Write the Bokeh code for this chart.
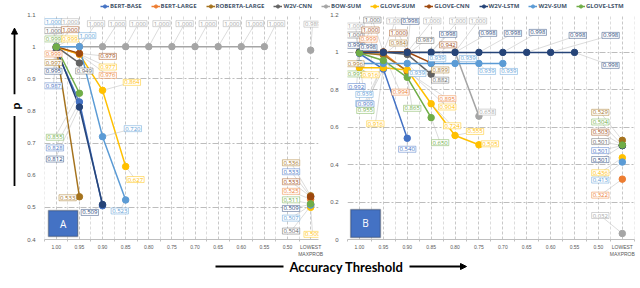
import math
from bokeh.plotting import figure
from bokeh.models import (Range1d, FixedTicker, Legend, LegendItem, Arrow,
                          NormalHead, BoxAnnotation, Label, ColumnDataSource)
from bokeh.layouts import column, row
from bokeh.embed import file_html
from bokeh.resources import INLINE
from bokeh.core.properties import value, field

N = None
THRESHOLDS = ["1.00", "0.95", "0.90", "0.85", "0.80", "0.75", "0.70", "0.65",
              "0.60", "0.55", "0.50", "LOWEST\nMAXPROB"]
SERIES = ["BERT-BASE", "BERT-LARGE", "ROBERTA-LARGE", "W2V-CNN", "BOW-SUM",
          "GLOVE-SUM", "GLOVE-CNN", "W2V-LSTM", "W2V-SUM", "GLOVE-LSTM"]
COLORS = ["#4472C4", "#ED7D31", "#A5731E", "#636363", "#A5A5A5",
          "#FFC000", "#9E480E", "#264478", "#5B9BD5", "#70AD47"]

# ---- Panel A values (one entry per threshold, None = no point)
A_BERT_BASE     = [0.987, 0.828, 0.505, N, N, N, N, N, N, N, N, 0.533]
A_BERT_LARGE    = [0.999, 0.976, N, N, N, N, N, N, N, N, N, 0.525]
A_ROBERTA_LARGE = [0.997, 0.533, N, N, N, N, N, N, N, N, N, 0.536]
A_W2V_CNN       = [1.000, 0.949, N, N, N, N, N, N, N, N, N, 0.504]
A_BOW_SUM       = [1.000, 1.000, 1.000, 1.000, 1.000, 1.000, 1.000, 1.000, 1.000, 1.000, N, 0.989]
A_GLOVE_SUM     = [0.999, 0.977, 0.864, 0.627, N, N, N, N, N, N, N, 0.500]
A_GLOVE_CNN     = [1.000, 0.979, N, N, N, N, N, N, N, N, N, 0.533]
A_W2V_LSTM      = [0.995, 0.812, 0.509, N, N, N, N, N, N, N, N, 0.509]
A_W2V_SUM       = [1.000, 1.000, 0.720, 0.523, N, N, N, N, N, N, N, 0.507]
A_GLOVE_LSTM    = [0.999, 0.855, N, N, N, N, N, N, N, N, N, 0.511]

# ---- Panel B values
B_BERT_BASE     = [0.992, 0.909, 0.540, N, N, N, N, N, N, N, N, 0.501]
B_BERT_LARGE    = [0.999, 0.994, 0.895, N, N, N, N, N, N, N, N, 0.322]
B_ROBERTA_LARGE = [0.996, 0.984, 0.899, N, N, N, N, N, N, N, N, 0.529]
B_W2V_CNN       = [1.000, 1.000, 0.987, 0.882, N, N, N, N, N, N, N, 0.501]
B_BOW_SUM       = [1.000, 1.000, 1.000, 1.000, 1.000, 0.658, N, N, N, N, N, 0.032]
B_GLOVE_SUM     = [0.916, 0.916, 0.904, 0.724, 0.555, 0.505, N, N, N, N, N, 0.436]
B_GLOVE_CNN     = [1.000, 1.000, 1.000, 0.942, N, N, N, N, N, N, N, 0.503]
B_W2V_LSTM      = [0.998, 0.998, 0.998, 0.998, 0.998, 0.998, 0.998, 0.998, 0.998, 0.998, N, 0.501]
B_W2V_SUM       = [0.939, 0.939, 0.939, 0.939, 0.939, 0.939, 0.939, N, N, N, N, 0.413]
B_GLOVE_LSTM    = [0.995, 0.955, 0.865, 0.650, N, N, N, N, N, N, N, 0.504]

A_VALUES = dict(zip(SERIES, [A_BERT_BASE, A_BERT_LARGE, A_ROBERTA_LARGE, A_W2V_CNN, A_BOW_SUM,
                             A_GLOVE_SUM, A_GLOVE_CNN, A_W2V_LSTM, A_W2V_SUM, A_GLOVE_LSTM]))
B_VALUES = dict(zip(SERIES, [B_BERT_BASE, B_BERT_LARGE, B_ROBERTA_LARGE, B_W2V_CNN, B_BOW_SUM,
                             B_GLOVE_SUM, B_GLOVE_CNN, B_W2V_LSTM, B_W2V_SUM, B_GLOVE_LSTM]))

A_Y_TICKS = [0.4, 0.5, 0.6, 0.7, 0.8, 0.9, 1.0, 1.1]
B_Y_TICKS = [0.0, 0.2, 0.4, 0.6, 0.8, 1.0, 1.2]

# ---- data-label placement (series, threshold index, pixel offset right, pixel offset up)
A_LABELS = [
    ("W2V-SUM", 0, -3, 25), ("W2V-CNN", 0, -3, 16), ("GLOVE-LSTM", 0, -3, 8),
    ("BERT-LARGE", 0, -3, -7), ("ROBERTA-LARGE", 0, -3, -15), ("W2V-LSTM", 0, -3, -23),
    ("BERT-BASE", 0, -3, -35), ("BOW-SUM", 0, 14, 25), ("GLOVE-CNN", 0, 14, 17),
    ("GLOVE-SUM", 0, 14, 8),
    ("BOW-SUM", 1, 17, 23), ("W2V-SUM", 1, 8, 11), ("GLOVE-CNN", 1, 29, -3),
    ("W2V-CNN", 1, 5, -8), ("GLOVE-SUM", 1, 29, -13), ("BERT-LARGE", 1, 29, -21),
    ("GLOVE-LSTM", 1, -25, -44), ("BERT-BASE", 1, -25, -46), ("W2V-LSTM", 1, -25, -52),
    ("ROBERTA-LARGE", 1, -12, -1),
    ("BOW-SUM", 2, 15, 23), ("GLOVE-SUM", 2, 30, 8), ("W2V-SUM", 2, 31, 8),
    ("W2V-LSTM", 2, -13, -8),
    ("BOW-SUM", 3, 13, 23), ("GLOVE-SUM", 3, 10, -13), ("W2V-SUM", 3, -6, -11),
    ("BOW-SUM", 4, 13, 23), ("BOW-SUM", 5, 13, 23), ("BOW-SUM", 6, 13, 23),
    ("BOW-SUM", 7, 14, 23), ("BOW-SUM", 8, 14, 23), ("BOW-SUM", 9, 12, 23),
    ("BOW-SUM", 11, 2, 26),
    ("ROBERTA-LARGE", 11, -20, 33), ("BERT-BASE", 11, -20, 25), ("GLOVE-CNN", 11, -20, 15),
    ("BERT-LARGE", 11, -20, 8), ("GLOVE-LSTM", 11, -20, 4), ("W2V-LSTM", 11, -20, -4),
    ("W2V-SUM", 11, -20, -13), ("W2V-CNN", 11, -20, -25), ("GLOVE-SUM", 11, 2, -27),
]
B_LABELS = [
    ("BOW-SUM", 0, -4, 26), ("W2V-CNN", 0, -4, 17), ("W2V-LSTM", 0, -4, 7),
    ("ROBERTA-LARGE", 0, -4, -11), ("GLOVE-LSTM", 0, -4, -21), ("BERT-BASE", 0, -3, -33),
    ("GLOVE-CNN", 0, 11, 22), ("BERT-LARGE", 0, 9, 13), ("GLOVE-SUM", 0, 11, -7),
    ("W2V-SUM", 0, 5, -31),
    ("W2V-CNN", 1, -11, 32), ("BOW-SUM", 1, 12, 31), ("W2V-LSTM", 1, -15, 5),
    ("ROBERTA-LARGE", 1, 15, 12), ("W2V-SUM", 1, -19, -40), ("BERT-BASE", 1, -18, -35),
    ("GLOVE-LSTM", 1, -18, -50), ("GLOVE-SUM", 1, -8, -56), ("BERT-LARGE", 1, 17, -39),
    ("W2V-LSTM", 2, 3, 31), ("GLOVE-CNN", 2, -9, 19), ("BOW-SUM", 2, 25, 31),
    ("W2V-CNN", 2, 18, 14), ("W2V-SUM", 2, 10, -10), ("GLOVE-LSTM", 2, 5, -31),
    ("BERT-BASE", 2, 0, -11), ("ROBERTA-LARGE", 2, 33, 1), ("BERT-LARGE", 2, 40, -27),
    ("GLOVE-SUM", 2, 40, -37),
    ("GLOVE-CNN", 3, 17, 18), ("W2V-CNN", 3, 9, -6), ("W2V-SUM", 3, 6, 5),
    ("GLOVE-SUM", 3, 21, -22), ("GLOVE-LSTM", 3, 9, -25), ("BOW-SUM", 3, 27, 31),
    ("BOW-SUM", 4, 23, 31), ("W2V-SUM", 4, 13, 5), ("GLOVE-SUM", 4, 20, 4),
    ("BOW-SUM", 5, 8, 4), ("W2V-SUM", 5, 8, -8), ("GLOVE-SUM", 5, 11, 1),
    ("W2V-SUM", 6, 6, -8),
    ("W2V-LSTM", 3, 17, 18), ("W2V-LSTM", 4, 33, 19), ("W2V-LSTM", 5, 34, 19),
    ("W2V-LSTM", 6, 35, 20), ("W2V-LSTM", 7, 51, 17), ("W2V-LSTM", 8, 60, 17),
    ("W2V-LSTM", 9, 36, -13),
    ("ROBERTA-LARGE", 11, -22, 28), ("GLOVE-LSTM", 11, -22, 23), ("GLOVE-CNN", 11, -22, 13),
    ("W2V-CNN", 11, -22, 4), ("BERT-BASE", 11, -22, -5), ("W2V-LSTM", 11, -22, -14),
    ("GLOVE-SUM", 11, -22, -15), ("W2V-SUM", 11, -22, -18), ("BERT-LARGE", 11, -22, -16),
    ("BOW-SUM", 11, -22, 18),
]

LABEL_FONT = value("Open Sans")
PANEL_H = 248
TOP_B, BOT_B = 3, 20


def panel(values, labels, xr, yr, yticks, ygrid, overrides, width, bl, br, tag, tagbox):
    p = figure(width=width, height=PANEL_H, x_range=Range1d(*xr), y_range=Range1d(*yr),
               toolbar_location=None, output_backend="svg",
               min_border_left=bl, min_border_right=br,
               min_border_top=TOP_B, min_border_bottom=BOT_B)
    p.outline_line_color = None
    p.background_fill_color = "white"
    sx = (width - bl - br) / (xr[1] - xr[0])
    sy = (PANEL_H - TOP_B - BOT_B) / (yr[1] - yr[0])

    # axes
    p.xaxis.ticker = FixedTicker(ticks=list(range(12)),
                                 minor_ticks=[i - 0.5 for i in range(13)])
    p.xaxis.major_label_overrides = {i: t for i, t in enumerate(THRESHOLDS)}
    p.xaxis.major_tick_in = 0
    p.xaxis.major_tick_out = 0
    p.xaxis.minor_tick_in = 0
    p.xaxis.minor_tick_out = 2
    p.xaxis.axis_line_color = "#bfbfbf"
    p.xaxis.minor_tick_line_color = "#bfbfbf"
    p.xaxis.major_label_text_font_size = "5px"
    p.xaxis.major_label_text_color = "#595959"
    p.xaxis.major_label_standoff = 2
    p.yaxis.ticker = FixedTicker(ticks=yticks)
    p.yaxis.major_label_overrides = overrides
    p.yaxis.axis_line_color = None
    p.yaxis.major_tick_line_color = None
    p.yaxis.minor_tick_line_color = None
    p.yaxis.major_label_text_font_size = "6px"
    p.yaxis.major_label_text_color = "#595959"
    p.yaxis.major_label_standoff = 3

    # grid
    p.xgrid.ticker = FixedTicker(ticks=list(range(12)),
                                 minor_ticks=[i - 0.5 for i in range(13)])
    p.xgrid.grid_line_color = "#c8c8c8"
    p.xgrid.grid_line_dash = "3 2"
    p.xgrid.minor_grid_line_color = "#dcdcdc"
    p.xgrid.minor_grid_line_dash = "3 2"
    p.ygrid.ticker = FixedTicker(ticks=ygrid)
    p.ygrid.grid_line_color = "#bdbdbd"
    p.ygrid.grid_line_dash = "6 2 2 2"

    # series lines
    for name, color in zip(SERIES, COLORS):
        vals = values[name]
        lx = [i for i in range(11) if vals[i] is not None]
        ly = [vals[i] for i in lx]
        if len(lx) > 1:
            p.line(lx, ly, line_color=color, line_width=1.5)

    # leader lines + labels
    lab = dict(x=[], y=[], x0=[], y0=[], t=[], color=[])
    for name, i, dx, dy in labels:
        v = values[name][i]
        if v is None:
            continue
        lab["x0"].append(i)
        lab["y0"].append(v)
        lab["x"].append(i + dx / sx)
        lab["y"].append(v + dy / sy)
        lab["t"].append(f"{v:.3f}")
        lab["color"].append(COLORS[SERIES.index(name)])
    src = ColumnDataSource(lab)
    p.segment(x0="x0", y0="y0", x1="x", y1="y", source=src,
              line_color="#c4c4c4", line_width=0.6)

    # markers
    for name, color in zip(SERIES, COLORS):
        vals = values[name]
        mx = [i for i in range(12) if vals[i] is not None]
        my = [vals[i] for i in mx]
        p.scatter(mx, my, size=6.5, fill_color=color, line_color=color)

    p.text(x="x", y="y", text="t", source=src, text_color=field("color"),
           text_font=LABEL_FONT, text_font_size="6px", text_align="center",
           text_baseline="middle", background_fill_color="white",
           border_line_color=field("color"), border_line_width=0.6,
           border_line_alpha=0.8, padding=1)

    l, r, b, t = tagbox
    p.add_layout(BoxAnnotation(left=l, right=r, bottom=b, top=t,
                               fill_color="#4472C4", fill_alpha=1.0,
                               line_color="#1a1a1a", line_width=1.5))
    p.add_layout(Label(x=(l + r) / 2, y=(b + t) / 2, text=tag, text_align="center",
                       text_baseline="middle", text_color="white",
                       text_font_size="10px", text_font="Open Sans"))
    return p


pA = panel(A_VALUES, A_LABELS, (-0.51, 11.34), (0.4, 1.1), A_Y_TICKS,
           [0.5, 0.7, 0.9, 1.1], {1.0: "1"}, 300, 14, 6, "A",
           (-0.34, 0.93, 0.409, 0.49))
pB = panel(B_VALUES, B_LABELS, (-0.5, 11.51), (0.0, 1.2), B_Y_TICKS,
           [0.2, 0.4, 0.6, 0.8, 1.0], {0.0: "0", 1.0: "1"}, 316, 23, 6, "B",
           (-0.37, 0.88, 0.011, 0.16))

# ---- legend strip
leg = figure(width=640, height=11, x_range=Range1d(0, 1), y_range=Range1d(0, 1),
             toolbar_location=None, output_backend="svg", min_border=0,
             x_axis_location=None, y_axis_location=None)
leg.grid.visible = False
leg.outline_line_color = None
items = []
for name, color in zip(SERIES, COLORS):
    r1 = leg.line(x=[-5, -4], y=[-5, -5], line_color=color, line_width=1.5)
    r2 = leg.scatter(x=[-5], y=[-5], size=4, fill_color=color, line_color=color)
    items.append(LegendItem(label=name, renderers=[r1, r2]))
legend = Legend(items=items, orientation="horizontal", location=(100, 1),
                label_text_font_size="6px", label_text_font_style="bold",
                label_text_font="Open Sans", label_text_color="#44546A",
                glyph_width=9, glyph_height=8, label_standoff=1, spacing=9,
                padding=0, margin=0, border_line_alpha=0,
                background_fill_alpha=0, label_height=8, label_width=10)
leg.add_layout(legend)

# ---- y title strip (page y 11..259)
yt = figure(width=24, height=PANEL_H, x_range=Range1d(0, 24), y_range=Range1d(0, PANEL_H),
            toolbar_location=None, output_backend="svg", min_border=0,
            x_axis_location=None, y_axis_location=None)
yt.grid.visible = False
yt.outline_line_color = None
yt.add_layout(Arrow(end=NormalHead(size=6, fill_color="black", line_color="black"),
                    x_start=14, y_start=160, x_end=14, y_end=233,
                    line_color="black", line_width=1.8))
yt.segment(x0=[14], y0=[59], x1=[14], y1=[136], line_color="black", line_width=1.8)
yt.add_layout(Label(x=15, y=147, text="p", angle=math.pi / 2, text_align="center",
                    text_baseline="middle", text_font="Lato", text_font_style="bold",
                    text_font_size="12px", text_color="black"))

# ---- x title strip (page y 259..286)
xt = figure(width=640, height=27, x_range=Range1d(0, 640), y_range=Range1d(0, 27),
            toolbar_location=None, output_backend="svg", min_border=0,
            x_axis_location=None, y_axis_location=None)
xt.grid.visible = False
xt.outline_line_color = None
xt.add_layout(Label(x=346, y=20, text="Accuracy Threshold", text_align="center",
                    text_baseline="middle", text_font="Lato", text_font_style="bold",
                    text_font_size="13px", text_color="black"))
xt.segment(x0=[215], y0=[20], x1=[283], y1=[20], line_color="black", line_width=1.8)
xt.add_layout(Arrow(end=NormalHead(size=6, fill_color="black", line_color="black"),
                    x_start=409, y_start=20, x_end=466, y_end=20,
                    line_color="black", line_width=1.8))

layout = column(leg, row(yt, pA, pB), xt)
open("out.html", "w").write(file_html(layout, INLINE))
